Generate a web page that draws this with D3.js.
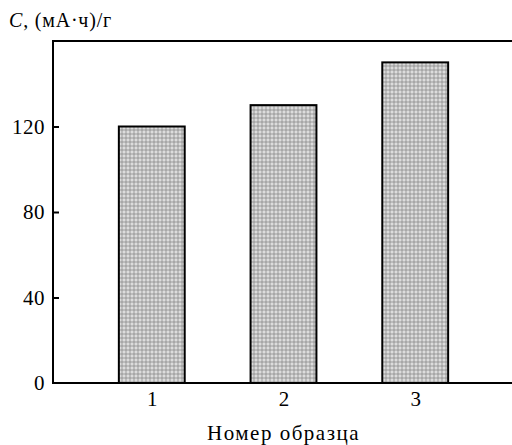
<!DOCTYPE html>
<html>
<head>
<meta charset="utf-8">
<script src="https://cdn.jsdelivr.net/npm/d3@7"></script>
<style>
  body { margin: 0; background: #fff; }
  svg text { font-family: "Liberation Serif", "DejaVu Serif", serif; fill: #000; }
</style>
</head>
<body>
<script>
// data
var samples = [1, 2, 3];
var capacity = [120, 130, 150];
var yTicks = [0, 40, 80, 120];

var W = 512, H = 445;
var margin = {top: 41, right: -2, bottom: 62, left: 53};
var width = W - margin.left - margin.right,
    height = H - margin.top - margin.bottom;

var svg = d3.select("body").append("svg")
    .attr("width", W)
    .attr("height", H);

// checked grey fill for the bars
var defs = svg.append("defs");
var pat = defs.append("pattern")
    .attr("id", "check")
    .attr("patternUnits", "userSpaceOnUse")
    .attr("width", 4).attr("height", 4);
pat.append("rect").attr("width", 4).attr("height", 4).attr("fill", "#dcdcdc");
pat.append("rect").attr("x", 0).attr("y", 0).attr("width", 4).attr("height", 2)
    .attr("fill", "#808080").attr("fill-opacity", 0.35);
pat.append("rect").attr("x", 0).attr("y", 0).attr("width", 2).attr("height", 4)
    .attr("fill", "#808080").attr("fill-opacity", 0.35);

var g = svg.append("g")
    .attr("transform", "translate(" + margin.left + "," + margin.top + ")");

var x = d3.scaleLinear().domain([0.25, 3.75]).range([0, width]);
var y = d3.scaleLinear().domain([0, 160]).range([height, 0]);
var barW = x(1.5) - x(1);

// bars
g.selectAll(".bar")
    .data(samples)
    .enter().append("rect")
    .attr("class", "bar")
    .attr("x", function(d) { return x(d) - barW / 2; })
    .attr("y", function(d, i) { return y(capacity[i]); })
    .attr("width", barW)
    .attr("height", function(d, i) { return height - y(capacity[i]); })
    .attr("fill", "url(#check)")
    .attr("stroke", "#000")
    .attr("stroke-width", 2);

// frame: left, top, bottom
g.append("path")
    .attr("d", "M" + x(3.75) + "," + y(160) + "H0V" + height + "H" + x(3.75))
    .attr("fill", "none")
    .attr("stroke", "#000")
    .attr("stroke-width", 2);

// y axis
var yAxis = d3.axisLeft(y).tickValues(yTicks).tickSize(-6).tickPadding(10);
var ya = g.append("g").call(yAxis).attr("font-family", null).attr("font-size", null);
ya.select(".domain").remove();
ya.selectAll(".tick line").attr("stroke", "#000").attr("stroke-width", 2)
    .filter(function(d) { return d === 0; }).remove();
ya.selectAll(".tick text")
    .attr("x", -8)
    .style("font-size", "21px")
    .style("letter-spacing", "0.5px");

// x axis
var xAxis = d3.axisBottom(x).tickValues(samples).tickFormat(d3.format("d"))
    .tickSize(0).tickPadding(8);
var xa = g.append("g").attr("transform", "translate(0," + height + ")").call(xAxis)
    .attr("font-family", null).attr("font-size", null);
xa.select(".domain").remove();
xa.selectAll(".tick text")
    .style("font-size", "21px");

// axis titles
var yTitle = svg.append("text")
    .attr("x", 9).attr("y", 27)
    .style("font-size", "20px")
    .style("letter-spacing", "0.8px");
yTitle.append("tspan").style("font-style", "italic").text("C");
yTitle.append("tspan").text(", (мА·ч)/г");

svg.append("text")
    .attr("x", margin.left + x(2)).attr("y", 440)
    .attr("text-anchor", "middle")
    .style("font-size", "21px")
    .style("letter-spacing", "1.5px")
    .text("Номер образца");
</script>
</body>
</html>
